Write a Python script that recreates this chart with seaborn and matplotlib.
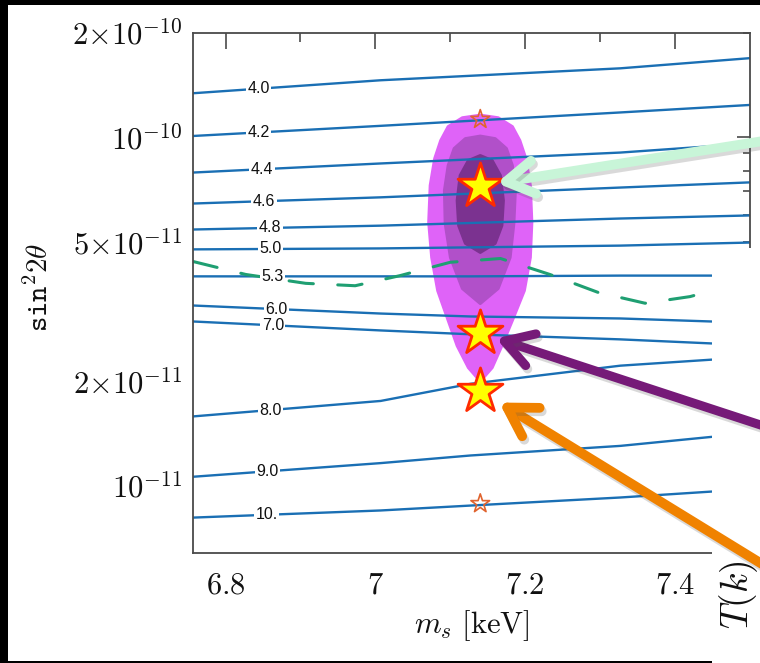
import numpy as np
import pandas as pd
import matplotlib
matplotlib.use("Agg")
import matplotlib.pyplot as plt
import seaborn as sns
from matplotlib.patches import Rectangle, Polygon, ConnectionPatch
from matplotlib import patheffects as pe
from matplotlib.ticker import FixedLocator, FuncFormatter

# ---------------------------------------------------------------- data
# lifetime contours (labels) traced as sin^2(2theta) versus m_s
LEVELS = ["4.0", "4.2", "4.4", "4.6", "4.8", "5.0", "5.3", "6.0", "7.0", "8.0", "9.0", "10."]
MS_UPPER = [6.757, 7.007, 7.327, 7.500]
MS_LOWER = [6.757, 7.007, 7.127, 7.327, 7.449]
SIN_4_0 = [1.34e-10, 1.46e-10, 1.58e-10, 1.69e-10]
SIN_4_2 = [1.01e-10, 1.08e-10, 1.18e-10, 1.24e-10]
SIN_4_4 = [7.93e-11, 8.42e-11, 9.05e-11, 9.61e-11]
SIN_4_6 = [6.46e-11, 6.73e-11, 7.18e-11, 7.43e-11]
SIN_4_8 = [5.44e-11, 5.58e-11, 5.85e-11, 5.97e-11]
SIN_5_0 = [4.77e-11, 4.80e-11, 4.89e-11, 4.99e-11]
SIN_5_3 = [3.99e-11, 3.99e-11, 3.99e-11, 4.01e-11, 4.01e-11]
SIN_6_0 = [3.29e-11, 3.12e-11, 3.06e-11, 3.02e-11, 2.96e-11]
SIN_7_0 = [2.96e-11, 2.79e-11, 2.72e-11, 2.63e-11, 2.56e-11]
SIN_8_0 = [1.58e-11, 1.75e-11, 1.96e-11, 2.21e-11, 2.30e-11]
SIN_9_0 = [1.06e-11, 1.16e-11, 1.22e-11, 1.30e-11, 1.38e-11]
SIN_10 = [8.09e-12, 8.48e-12, 8.76e-12, 9.24e-12, 9.61e-12]
LABEL_MS = [6.844, 6.844, 6.849, 6.851, 6.859, 6.860, 6.863, 6.868, 6.863, 6.860, 6.856, 6.855]

# dashed bound curve
BOUND_MS = [6.757, 6.827, 6.907, 6.973, 7.033, 7.100, 7.167, 7.233, 7.297, 7.360, 7.420, 7.449]
BOUND_SIN = [4.40e-11, 4.04e-11, 3.81e-11, 3.75e-11, 4.01e-11, 4.38e-11, 4.49e-11,
             4.04e-11, 3.59e-11, 3.34e-11, 3.49e-11, 3.63e-11]

# line-signal confidence regions (outer, middle, inner)
OUTER_MS = [7.140, 7.164, 7.183, 7.193, 7.201, 7.207, 7.209, 7.207, 7.199, 7.183, 7.169, 7.156,
            7.140, 7.124, 7.109, 7.097, 7.083, 7.075, 7.071, 7.073, 7.079, 7.087, 7.097, 7.116]
OUTER_SIN = [1.16e-10, 1.14e-10, 1.075e-10, 9.80e-11, 8.70e-11, 7.28e-11, 5.70e-11, 4.52e-11,
             3.63e-11, 2.98e-11, 2.52e-11, 2.18e-11, 1.99e-11, 2.18e-11, 2.52e-11, 2.98e-11,
             3.63e-11, 4.52e-11, 5.70e-11, 7.28e-11, 8.70e-11, 9.80e-11, 1.075e-10, 1.14e-10]
MIDDLE_MS = [7.140, 7.160, 7.175, 7.183, 7.187, 7.185, 7.180, 7.164,
             7.140, 7.116, 7.100, 7.093, 7.092, 7.097, 7.105, 7.120]
MIDDLE_SIN = [1.01e-10, 9.93e-11, 9.30e-11, 8.31e-11, 7.04e-11, 5.66e-11, 4.52e-11, 3.68e-11,
              3.33e-11, 3.68e-11, 4.52e-11, 5.66e-11, 7.04e-11, 8.31e-11, 9.30e-11, 9.93e-11]
INNER_MS = [7.140, 7.156, 7.167, 7.171, 7.169, 7.160, 7.140, 7.120, 7.111, 7.109, 7.113, 7.124]
INNER_SIN = [8.88e-11, 8.59e-11, 7.78e-11, 6.59e-11, 5.58e-11, 4.96e-11,
             4.67e-11, 4.96e-11, 5.58e-11, 6.59e-11, 7.78e-11, 8.59e-11]

# benchmark models
STAR_MS = 7.14
FILLED_SIN = [7.27e-11, 2.74e-11, 1.87e-11]
OPEN_SIN = [1.127e-10, 8.87e-12]

# axis ticks
XTICKS = [6.8, 7.0, 7.2, 7.4]
XTICK_LABELS = [r"$6.8$", r"$7$", r"$7.2$", r"$7.4$"]
XMINOR = [6.9, 7.1, 7.3]
YTICK_VALUES = [2e-10, 1e-10, 5e-11, 2e-11, 1e-11]
YTICK_LABELS = [r"$2{\times}10^{-10}$", r"$10^{-10}$", r"$5{\times}10^{-11}$",
                r"$2{\times}10^{-11}$", r"$10^{-11}$"]

# ---------------------------------------------------------------- style
sns.set_style("white")
plt.rcParams["mathtext.fontset"] = "cm"
plt.rcParams["font.family"] = ["DejaVu Serif"]

BLUE = "#1a6fb4"
GREEN = "#1f9f72"

fig = plt.figure(figsize=(7.6, 6.63), dpi=100, facecolor="black")
fig.add_artist(Rectangle((0.0105, 0.003), 1.0, 0.9895, transform=fig.transFigure,
                         facecolor="white", edgecolor="none", zorder=-10))
ax = fig.add_axes([0.2544, 0.1659, 0.7324, 0.7848])
ax.set_yscale("log")
ax.set_xlim(6.757, 7.5)
ax.set_ylim(6.4e-12, 2e-10)

# confidence regions
for xs, ys, col in [(OUTER_MS, OUTER_SIN, "#df63f8"),
                    (MIDDLE_MS, MIDDLE_SIN, "#b150c9"),
                    (INNER_MS, INNER_SIN, "#7b3290")]:
    ax.add_patch(Polygon(np.column_stack([xs, ys]), closed=True, facecolor=col,
                         edgecolor=col, linewidth=2.0, joinstyle="round", zorder=1))

# contour lines
curves = [SIN_4_0, SIN_4_2, SIN_4_4, SIN_4_6, SIN_4_8, SIN_5_0,
          SIN_5_3, SIN_6_0, SIN_7_0, SIN_8_0, SIN_9_0, SIN_10]
rows = []
for lvl, ys in zip(LEVELS, curves):
    xs = MS_UPPER if len(ys) == len(MS_UPPER) else MS_LOWER
    for x, y in zip(xs, ys):
        rows.append({"level": lvl, "ms": x, "sin2": y})
lines = pd.DataFrame(rows)
sns.lineplot(data=lines, x="ms", y="sin2", hue="level", units="level", estimator=None,
             sort=False, palette={l: BLUE for l in LEVELS}, linewidth=1.7,
             legend=False, ax=ax, zorder=2)

for lvl, ys, lx in zip(LEVELS, curves, LABEL_MS):
    xs = MS_UPPER if len(ys) == len(MS_UPPER) else MS_LOWER
    ly = 10 ** np.interp(lx, xs, np.log10(ys))
    ax.text(lx, ly, lvl, ha="center", va="center", fontsize=11.5,
            family="Liberation Sans", color="#111111", zorder=3,
            bbox=dict(facecolor="white", edgecolor="none", pad=1.2))

# dashed bound
bound = pd.DataFrame({"ms": BOUND_MS, "sin2": BOUND_SIN})
sns.lineplot(data=bound, x="ms", y="sin2", color=GREEN, linewidth=2.2, sort=False,
             estimator=None, ax=ax, zorder=2.5, dashes=False)
ax.lines[-1].set_dashes([8, 8])
ax.lines[-1].set_dash_capstyle("round")

# benchmark stars
filled = pd.DataFrame({"ms": [STAR_MS] * len(FILLED_SIN), "sin2": FILLED_SIN})
sns.scatterplot(data=filled, x="ms", y="sin2", marker="*", s=1150, color="#ffff00",
                edgecolor="#ff2a00", linewidth=2.0, ax=ax, zorder=5, legend=False)
opened = pd.DataFrame({"ms": [STAR_MS] * len(OPEN_SIN), "sin2": OPEN_SIN})
sns.scatterplot(data=opened, x="ms", y="sin2", marker="*", s=200, facecolor="none",
                edgecolor="#e0632e", linewidth=1.2, ax=ax, zorder=5, legend=False)

# ticks and frame
ax.xaxis.set_major_locator(FixedLocator(XTICKS))
ax.xaxis.set_minor_locator(FixedLocator(XMINOR))
ax.set_xticklabels(XTICK_LABELS)
ylab = dict(zip(YTICK_VALUES, YTICK_LABELS))


def fmt_y(v, pos):
    for k, s in ylab.items():
        if abs(np.log10(v) - np.log10(k)) < 1e-6:
            return s
    return ""


ax.yaxis.set_major_locator(FixedLocator([1e-10, 1e-11]))
ax.yaxis.set_minor_locator(FixedLocator([m * 10.0 ** e for e in (-12, -11, -10)
                                         for m in range(2, 10)]))
ax.yaxis.set_major_formatter(FuncFormatter(fmt_y))
ax.yaxis.set_minor_formatter(FuncFormatter(fmt_y))

FRAME = "#4a4a4a"
for s in ax.spines.values():
    s.set_color(FRAME)
    s.set_linewidth(1.3)
ax.tick_params(axis="both", which="both", direction="in", colors=FRAME,
               labelcolor="#111111", labelsize=22, top=True, right=True)
ax.tick_params(axis="x", which="major", length=11.5, width=1.2, pad=12)
ax.tick_params(axis="x", which="minor", length=6.5, width=1.2)
ax.tick_params(axis="y", which="major", length=9.5, width=1.2, pad=8)
ax.tick_params(axis="y", which="minor", length=5.0, width=1.2, pad=8)

ax.set_xlabel(r"$m_s\ [\mathrm{keV}]$", fontsize=22, color="#111111")
ax.xaxis.set_label_coords(0.5, -0.105)
ax.set_ylabel(r"$\mathtt{sin}^{2}2\theta$", fontsize=21, color="#111111")
ax.yaxis.set_label_coords(-0.25, 0.51)

# neighbouring panel covering the lower right
fig.add_artist(Rectangle((0.9368, 0.0), 0.07, 0.626, transform=fig.transFigure,
                         facecolor="white", edgecolor="none", zorder=1.5))
fig.text(0.944, 0.155, r"$T(k)$", rotation=90, ha="left", va="top", fontsize=27,
         color="#111111", zorder=1.6)

# pointer arrows to the benchmark models
shadow = [pe.SimpleLineShadow(offset=(1.5, -2.5), shadow_color="#555555", alpha=0.22),
          pe.Normal()]
for tail, sy, col, lw, shrink in [((1.03, 0.792), FILLED_SIN[0], "#c8f5d8", 7.0, 12),
                                  ((1.03, 0.348), FILLED_SIN[1], "#761a78", 6.5, 12),
                                  ((1.03, 0.130), FILLED_SIN[2], "#f08200", 7.0, 16)]:
    arr = ConnectionPatch(xyA=tail, coordsA=fig.transFigure, xyB=(STAR_MS, sy),
                          coordsB=ax.transData,
                          arrowstyle="->,head_length=0.5,head_width=0.3",
                          mutation_scale=40, color=col, linewidth=lw,
                          shrinkA=0, shrinkB=shrink, capstyle="round",
                          joinstyle="round", zorder=3)
    arr.set_path_effects(shadow)
    fig.add_artist(arr)

fig.savefig("out.png", dpi=100, facecolor=fig.get_facecolor())
